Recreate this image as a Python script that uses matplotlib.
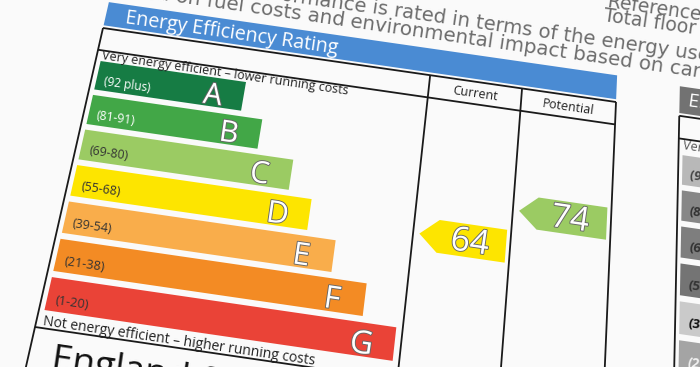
import numpy as np
import matplotlib
matplotlib.use("Agg")
import matplotlib.pyplot as plt
import matplotlib.transforms as mtransforms
import matplotlib.patheffects as pe
from matplotlib.path import Path
from matplotlib.patches import Rectangle, Polygon

# rating bands
bands = ["A", "B", "C", "D", "E", "F", "G"]
ranges = ["(92 plus)", "(81-91)", "(69-80)", "(55-68)", "(39-54)", "(21-38)", "(1-20)"]
lower = [92, 81, 69, 55, 39, 21, 1]
bar_len = [146, 168, 204, 227, 255, 289, 321]
colors = ["#167c44", "#42a747", "#9bcb63", "#fde500", "#f9ad4b", "#f38b24", "#ea4337"]
range_col = ["white", "white", "#333333", "#333333", "#333333", "#333333", "#333333"]
current = 64
potential = 74

# greyed environmental chart on the right (mostly cut off)
env_colors = ["#b8b8b8", "#878787", "#7e7e7e", "#747474", "#cacaca", "#a4a4a4", "#8c8c8c"]
env_text = ["#444444", "#333333", "#333333", "#333333", "#111111", "#f2f2f2", "#f2f2f2"]

# page text behind the chart
line1_a, line1_b = "This home's performance ", "is rated in terms of the energy use per square metre of floor area,"
line2_a, line2_b = "energy efficiency based on fuel costs and ", "environmental impact based on carbon dioxide (CO2) emissions."

# layout of the flat chart (local units) and where its corners land in the photo
W, H = 520, 300
src = [(0, 0), (W, 0), (0, H), (W, H)]
dst = [(103, 28), (616, 102), (35, 327), (603, 410)]


def homography(src, dst):
    A, b = [], []
    for (u, v), (x, y) in zip(src, dst):
        A.append([u, v, 1, 0, 0, 0, -u * x, -v * x]); b.append(x)
        A.append([0, 0, 0, u, v, 1, -u * y, -v * y]); b.append(y)
    h = np.linalg.solve(np.array(A, float), np.array(b, float))
    return np.append(h, 1).reshape(3, 3)


Hm = homography(src, dst)
Hinv = np.linalg.inv(Hm)


def warp(pts, M=Hm):
    pts = np.asarray(pts, float).reshape(-1, 2)
    p = np.c_[pts, np.ones(len(pts))] @ M.T
    return p[:, :2] / p[:, 2:]


def at(x, y):
    # local position of a spot in the photo
    return warp([(x, y)], Hinv)[0]


class Tilt(mtransforms.Transform):
    input_dims = output_dims = 2

    def transform_non_affine(self, values):
        return warp(values)

    def transform_path_non_affine(self, path):
        return Path(warp(path.vertices), path.codes)


fig = plt.figure(figsize=(7, 3.67), dpi=100)
fig.patch.set_facecolor("#fafafa")
ax = fig.add_axes([0, 0, 1, 1])
ax.set_facecolor("#fafafa")
T = Tilt() + ax.transData

FONT = "Open Sans"


def txt(u, v, s, size, color="#222222", ha="left", va="baseline", family=FONT, **kw):
    p = warp([(u, v), (u + 10, v)])
    d = p[1] - p[0]
    rot = -np.degrees(np.arctan2(d[1], d[0]))
    scale = np.hypot(*d) / 10
    return ax.text(u, v, s, transform=T, rotation=rot, rotation_mode="anchor",
                   fontsize=size * scale, color=color, ha=ha, va=va, family=family, **kw)


def line(us, vs, lw=1.3, color="#1a1a1a"):
    ax.plot(us, vs, transform=T, color=color, lw=lw, solid_capstyle="butt")


# background page text
PAGE = dict(color="#6c6c6c", family="DejaVu Sans")
u, v = at(372, 13)
txt(u, v, line1_a, 14.5, ha="right", **PAGE)
txt(u, v, line1_b, 14.5, **PAGE)
u, v = at(350, 27)
txt(u, v, line2_a, 14.5, ha="right", **PAGE)
txt(u, v, line2_b, 14.5, **PAGE)
u, v = at(607, 7)
txt(u, v, "Reference number:", 14, **PAGE)
u, v = at(603, 21)
txt(u, v, "Total floor area:", 14, **PAGE)

# header
ax.add_patch(Rectangle((0, -29), W, 26, transform=T, color="#4a8bd3", lw=0))
txt(20, -9, "Energy Efficiency Rating", 14.2, color="white")

# frame
col_cur, col_pot = 332, 425
line([0, W], [0, 0])
line([0, W], [24, 24])
line([0, W], [300, 300])
for c in [0, col_cur, col_pot, W]:
    line([c, c], [0, 420])
txt((col_cur + col_pot) / 2, 13, "Current", 9, ha="center", va="center")
txt((col_pot + W) / 2, 13, "Potential", 9, ha="center", va="center")
txt(5, 33, "Very energy efficient \u2013 lower running costs", 9)
txt(6, 297, "Not energy efficient \u2013 higher running costs", 9.1)
u, v = at(50, 369)
txt(u, v, "England & Wales", 24, color="#111111")

# bars
pitch, bh, top0, left0 = 36.3, 30.5, 35.5, 5
rows = np.arange(len(bands))
tops = top0 + pitch * rows
ax.barh(tops + bh / 2, bar_len, height=bh, left=left0, color=colors, transform=T, lw=0)
outline = [pe.withStroke(linewidth=1.3, foreground="#666666")]
for i, b in enumerate(bands):
    txt(13, tops[i] + 0.68 * bh, ranges[i], 8.5, color=range_col[i], va="center")
    txt(left0 + bar_len[i] - 30, tops[i] + 0.66 * bh, b, 21, color="white",
        ha="center", va="center", path_effects=outline)


def band_of(val):
    for i, lo in enumerate(lower):
        if val >= lo:
            return i
    return len(lower) - 1


def arrow(val, c0, c1):
    i = band_of(val)
    vc = tops[i] + bh / 2 + 3
    hh = 16
    tip, notch, right = c0 + 6, c0 + 24, c1 - 4
    pts = [(tip, vc), (notch, vc - hh), (right, vc - hh), (right, vc + hh), (notch, vc + hh)]
    ax.add_patch(Polygon(pts, closed=True, transform=T, color=colors[i], lw=0))
    txt((notch + right) / 2 - 2, vc + 2, str(val), 23, color="white", ha="center", va="center",
        path_effects=outline)


arrow(current, col_cur, col_pot)
arrow(potential, col_pot, W)

# greyed second chart
e0 = 584
ax.add_patch(Rectangle((e0, -27), 200, 29, transform=T, color="#727272", lw=0))
txt(e0 + 8, -7, "Environmental Impact (CO\u2082) Rating", 14, color="white")
line([e0, e0 + 200], [5, 5])
line([e0, e0 + 200], [29, 29])
line([e0, e0], [5, 420])
txt(e0 + 4, 40, "Very environmentally friendly \u2013 lower CO\u2082 emissions", 9, color="#555555")
etops = 46 + pitch * rows
ax.barh(etops + bh / 2, [150] * len(bands), height=bh, left=e0 + 4, color=env_colors,
        transform=T, lw=0)
for i in range(len(bands)):
    txt(e0 + 12, etops[i] + 0.65 * bh, ranges[i], 9, color=env_text[i], va="center",
        fontweight="bold")

ax.set_xlim(0, 700)
ax.set_ylim(367, 0)
ax.axis("off")
fig.savefig("out.png", dpi=100, facecolor=fig.get_facecolor())
